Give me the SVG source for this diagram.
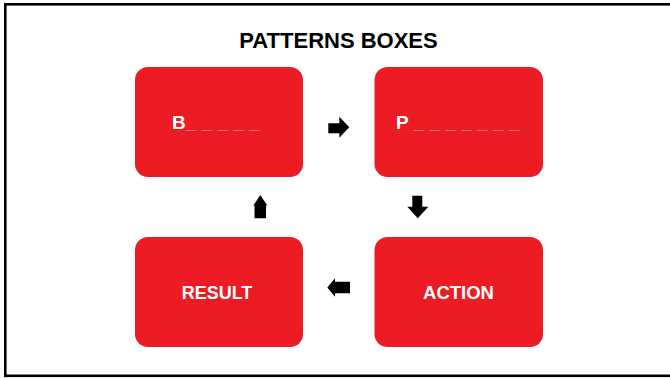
<svg xmlns="http://www.w3.org/2000/svg" width="670" height="378" viewBox="0 0 670 378">
  <style>
    .box { fill: #ed1c24; }
    .label { font-family: "Liberation Sans", Arial, sans-serif; font-weight: bold; fill: #ffffff; }
    .blank { fill-opacity: 0.6; }
    .title { font-family: "Liberation Sans", Arial, sans-serif; font-weight: bold; font-size: 22px; fill: #000000; }
    .arrow { fill: #000000; }
  </style>
  <rect x="0" y="0" width="670" height="378" fill="#ffffff"/>
  <!-- frame (open on the right edge) -->
  <rect x="5.3" y="4.3" width="700" height="371.5" fill="none" stroke="#000000" stroke-width="2.6"/>

  <text class="title" x="338.5" y="48" text-anchor="middle">PATTERNS BOXES</text>

  <g id="node-b">
    <rect class="box" x="135" y="67" width="168" height="110" rx="13"/>
    <text class="label" x="172" y="129" font-size="19">B<tspan class="blank">_ _ _ _ _</tspan></text>
  </g>
  <g id="node-p">
    <rect class="box" x="374.5" y="67" width="168.5" height="110" rx="13"/>
    <text class="label" x="396" y="129" font-size="19">P <tspan class="blank">_ _ _ _ _ _ _</tspan></text>
  </g>
  <g id="node-action">
    <rect class="box" x="374.5" y="237" width="168.5" height="110" rx="13"/>
    <text class="label" x="458.5" y="299" font-size="18.5" text-anchor="middle">ACTION</text>
  </g>
  <g id="node-result">
    <rect class="box" x="135" y="237" width="168" height="110" rx="13"/>
    <text class="label" x="217" y="299" font-size="18" text-anchor="middle">RESULT</text>
  </g>

  <g id="connectors">
    <!-- B -> P -->
    <polygon class="arrow" points="328.3,123.3 339.3,123.3 339.3,116.7 349.3,127.2 339.3,137.7 339.3,133.3 328.3,133.3"/>
    <!-- P -> ACTION -->
    <polygon class="arrow" points="412.3,195.7 422.3,195.7 422.3,206.7 428.3,206.7 417.8,218.3 407.3,206.7 412.3,206.7"/>
    <!-- ACTION -> RESULT -->
    <polygon class="arrow" points="350,281.7 335,281.7 335,278.3 327.3,287.5 335,296.7 335,293.3 350,293.3"/>
    <!-- RESULT -> B -->
    <polygon class="arrow" points="254.5,218.3 266,218.3 266,205.5 267.3,205.5 260.3,195 253.3,205.5 254.5,205.5"/>
  </g>
</svg>
